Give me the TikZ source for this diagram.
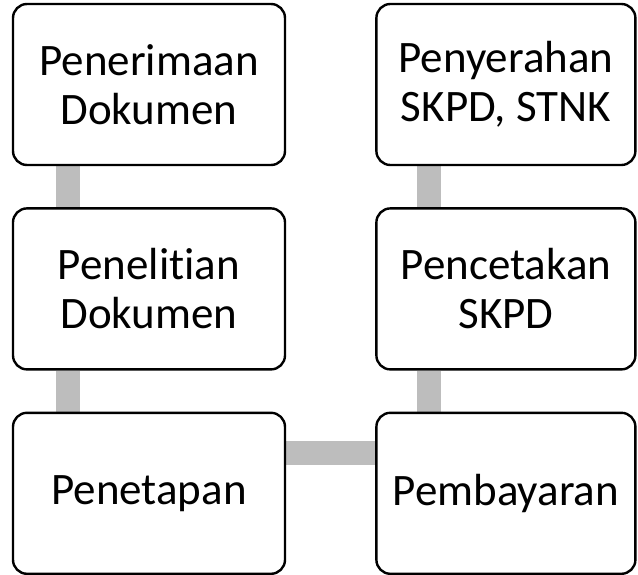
\documentclass[tikz,border=0pt]{standalone}
\usepackage{fontspec}
\setmainfont[Ligatures=NoCommon]{Carlito}
\definecolor{linkgray}{RGB}{189, 189, 189}
\usepackage{tikz}
\usetikzlibrary{positioning, backgrounds}

\begin{document}
\begin{tikzpicture}[
            x=1pt, y=1pt,
            box/.style={draw=black, fill=white, line width=2.4pt, rounded corners=14pt,
                        align=center, font=\fontsize{45}{49}\selectfont,
                        minimum width=272pt, minimum height=161pt, inner sep=0pt},
            rbox/.style={box, minimum width=259pt},
            link/.style={-, line width=24pt, color=linkgray}
          ]
          \useasboundingbox (0,-575) rectangle (638,0);
          \node[box] (terima) at (149,-84.5) {Penerimaan\\Dokumen};
          \node[box] (teliti) [below=41pt of terima] {Penelitian\\Dokumen};
          \node[box] (tetap) [below=41pt of teliti] {Penetapan};
          \node[rbox] (bayar) [right=89pt of tetap] {Pembayaran};
          \node[rbox] (cetak) [above=41pt of bayar] {Pencetakan\\SKPD};
          \node[rbox] (serah) [above=41pt of cetak] {Penyerahan\\SKPD, STNK};
          \begin{scope}[on background layer]
            \draw[link]([xshift=56pt]terima.south west)--([xshift=56pt]teliti.north west);
            \draw[link]([xshift=56pt]teliti.south west)--([xshift=56pt]tetap.north west);
            \draw[link]([yshift=40pt]tetap.east)--([yshift=40pt]bayar.west);
            \foreach \a/\b in {bayar/cetak,cetak/serah}
              \draw[link]([xshift=54pt]\a.north west)--([xshift=54pt]\b.south west);
          \end{scope}
        \end{tikzpicture}
\end{document}
